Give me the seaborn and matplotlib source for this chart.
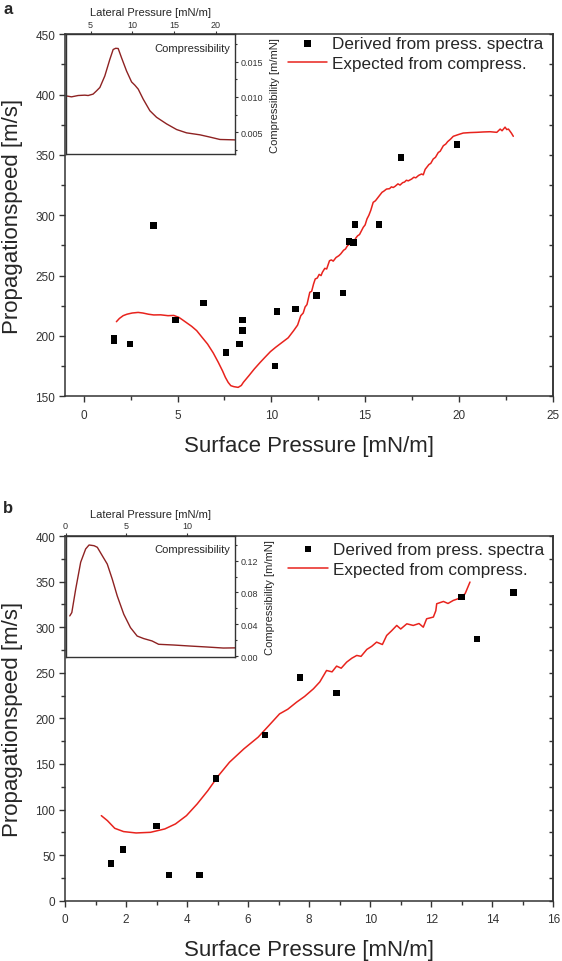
import matplotlib
matplotlib.use("Agg")
import matplotlib.pyplot as plt
import seaborn as sns
from matplotlib.ticker import MultipleLocator, FormatStrFormatter

# ---------------- data: panel a ----------------
a_pts_x = [1.6, 1.6, 2.47, 3.73, 4.9, 6.39, 7.59, 8.3, 8.45, 8.47, 10.2, 10.29,
           11.3, 12.42, 13.83, 14.15, 14.38, 14.47, 15.75, 16.91, 19.9]
a_pts_y = [198.5, 196.0, 193.3, 291.4, 213.2, 227.3, 186.4, 193.3, 213.2, 204.4, 175.1, 220.4,
           222.3, 233.4, 235.6, 278.4, 277.3, 292.5, 292.5, 348.0, 358.8]

a_curve_x = [1.74, 1.9, 2.1, 2.3, 2.58, 2.9, 3.15, 3.45, 3.73, 4.1,
             4.49, 4.8, 5.07, 5.25, 5.45, 5.75, 6.02, 6.3, 6.6, 6.9,
             7.17, 7.4, 7.55, 7.7, 7.84, 8.0, 8.23, 8.4, 8.51, 8.8,
             9.09, 9.4, 9.66, 9.95, 10.23, 10.62, 10.9, 11.19, 11.4, 11.57,
             11.7, 11.8, 11.9, 12.05, 12.15, 12.25, 12.34, 12.45, 12.55, 12.65,
             12.72, 12.85, 12.95, 13.1, 13.2, 13.3, 13.45, 13.6, 13.7, 13.85,
             13.95, 14.06, 14.19, 14.3, 14.4, 14.5, 14.6, 14.7, 14.8, 14.9,
             15.0, 15.1, 15.2, 15.3, 15.43, 15.55, 15.7, 15.8, 15.9, 16.0,
             16.14, 16.3, 16.4, 16.5, 16.6, 16.75, 16.86, 17.0, 17.1, 17.2,
             17.3, 17.48, 17.6, 17.7, 17.85, 18.01, 18.1, 18.2, 18.3, 18.4,
             18.5, 18.63, 18.75, 18.9, 19.0, 19.17, 19.3, 19.4, 19.55, 19.7,
             20.0, 20.23, 20.6, 20.95, 21.3, 21.66, 22.02, 22.2, 22.3, 22.46,
             22.55, 22.64, 22.8, 22.9]
a_curve_y = [211.8, 214.5, 216.8, 218.0, 219.0, 219.5, 219.0, 218.0, 217.4, 217.5,
             216.8, 217.0, 215.4, 213.5, 211.3, 208.0, 204.4, 199.0, 193.3, 186.0,
             178.2, 171.0, 165.7, 161.5, 158.8, 158.0, 157.4, 159.0, 161.6, 167.0,
             172.6, 178.0, 182.3, 187.0, 190.6, 195.2, 198.5, 204.4, 209.0, 216.8,
             219.0, 224.0, 226.0, 236.2, 237.0, 243.0, 247.2, 248.0, 251.0, 250.0,
             252.7, 256.0, 255.5, 262.3, 263.0, 262.0, 265.0, 266.5, 268.0, 271.0,
             272.0, 274.8, 276.2, 279.0, 278.0, 281.0, 283.0, 284.0, 287.0, 290.0,
             292.0, 297.0, 300.0, 304.0, 310.7, 312.0, 315.0, 317.0, 319.0, 320.0,
             321.7, 322.0, 323.5, 323.0, 324.0, 326.0, 325.0, 327.0, 327.5, 329.0,
             328.5, 330.0, 331.5, 331.0, 333.0, 334.2, 333.5, 338.0, 340.0, 342.0,
             343.0, 346.6, 348.0, 352.0, 353.0, 357.6, 359.0, 361.0, 363.0, 365.4,
             367.0, 368.1, 368.5, 368.7, 369.0, 369.2, 368.7, 371.4, 370.0, 373.0,
             371.0, 371.4, 368.0, 365.4]

a_inset_x = [2.0, 2.72, 3.51, 4.31, 4.71, 5.3, 5.71, 6.11, 6.7, 7.3,
             7.7, 8.0, 8.3, 8.7, 9.3, 9.9, 10.3, 10.7, 11.29, 12.09,
             12.89, 14.09, 15.29, 16.48, 18.08, 19.27, 20.47, 22.06, 22.27]
a_inset_y = [0.01016, 0.01001, 0.0102, 0.01025, 0.0102, 0.0104, 0.01086, 0.01134, 0.01297, 0.01532,
             0.01673, 0.0169, 0.01687, 0.01556, 0.01368, 0.01213, 0.01166, 0.0111, 0.00969, 0.00804,
             0.00711, 0.00617, 0.00537, 0.0049, 0.00462, 0.0043, 0.00396, 0.00391, 0.0039]

# ---------------- data: panel b ----------------
b_pts_x = [1.5, 1.9, 3.0, 3.4, 4.4, 4.95, 6.55, 7.7, 8.9, 13.0, 13.5, 14.7]
b_pts_y = [41.0, 56.0, 82.0, 28.0, 28.0, 134.0, 182.0, 245.0, 228.0, 333.0, 287.0, 338.0]

b_curve_x = [1.19, 1.39, 1.63, 1.92, 2.33, 2.8, 3.27, 3.62, 3.98, 4.33,
             4.68, 5.03, 5.39, 5.86, 6.33, 6.68, 7.03, 7.3, 7.59, 7.85,
             8.14, 8.35, 8.57, 8.75, 8.9, 9.05, 9.23, 9.4, 9.56, 9.7,
             9.89, 10.05, 10.21, 10.4, 10.54, 10.7, 10.87, 11.0, 11.2, 11.41,
             11.6, 11.74, 11.85, 12.07, 12.15, 12.18, 12.4, 12.55, 12.72, 12.94,
             13.11, 13.27]
b_curve_y = [93.3, 87.8, 79.4, 75.8, 74.3, 75.0, 78.7, 84.2, 93.3, 106.1,
             120.7, 137.2, 151.9, 166.5, 179.4, 192.1, 204.9, 210.0, 217.8, 224.0,
             232.4, 240.0, 252.5, 251.0, 257.3, 255.0, 261.7, 266.0, 269.0, 268.0,
             275.6, 279.0, 283.6, 281.0, 290.9, 296.0, 301.9, 298.0, 303.7, 301.9,
             304.0, 300.0, 309.2, 311.1, 318.0, 325.7, 328.2, 326.0, 329.3, 331.9,
             336.7, 349.5]

b_inset_x = [0.35, 0.52, 0.84, 1.25, 1.66, 1.94, 2.35, 2.62, 3.03, 3.44,
             3.85, 4.26, 4.8, 5.35, 5.9, 6.44, 7.13, 7.67, 8.9, 10.27,
             11.64, 13.0, 13.96]
b_inset_y = [0.0505, 0.0547, 0.0842, 0.118, 0.1347, 0.1397, 0.1388, 0.1368, 0.1262, 0.1157,
             0.0968, 0.0757, 0.0526, 0.0358, 0.0252, 0.022, 0.019, 0.0148, 0.0139, 0.0126,
             0.0114, 0.0101, 0.0103]

# ---------------- text ----------------
x_label = "Surface Pressure [mN/m]"
y_label = "Propagationspeed [m/s]"
inset_xlabel = "Lateral Pressure [mN/m]"
inset_ylabel = "Compressibility [m/mN]"
inset_title = "Compressibility"
lbl_pts = "Derived from press. spectra"
lbl_curve = "Expected from compress."

sns.set_style("ticks")
plt.rcParams['font.family'] = ['Liberation Sans', 'DejaVu Sans']
plt.rcParams['axes.edgecolor'] = '#333333'
plt.rcParams['xtick.color'] = '#333333'
plt.rcParams['ytick.color'] = '#333333'

W, H = 562, 962
fig = plt.figure(figsize=(W / 100, H / 100), dpi=100)


def rect(l, t, r, b):
    return [l / W, 1 - b / H, (r - l) / W, (b - t) / H]


RED = '#e8231d'
DARKRED = '#8e2222'


def main_panel(box, px, py, cx, cy, xlim, ylim, xmaj, xmin, ymaj, ymin, leg_y):
    ax = fig.add_axes(box)
    sns.lineplot(x=cx, y=cy, ax=ax, sort=False, estimator=None, color=RED,
                 lw=1.1, label=lbl_curve, zorder=2)
    sns.scatterplot(x=px, y=py, ax=ax, marker='s', color='black', s=22,
                    edgecolor='none', label=lbl_pts, zorder=3)
    ax.set_xlim(*xlim)
    ax.set_ylim(*ylim)
    ax.xaxis.set_major_locator(MultipleLocator(xmaj))
    ax.xaxis.set_minor_locator(MultipleLocator(xmin))
    ax.yaxis.set_major_locator(MultipleLocator(ymaj))
    ax.yaxis.set_minor_locator(MultipleLocator(ymin))
    ax.tick_params(which='both', direction='out', top=False, right=False,
                   labelsize=8.5, width=1)
    ax.tick_params(axis='x', pad=5)
    ax.tick_params(axis='y', pad=3)
    ax.tick_params(which='major', length=4)
    ax.tick_params(which='minor', length=3)
    for s in ax.spines.values():
        s.set_linewidth(1.1)
    sec = ax.secondary_yaxis('right')
    sec.yaxis.set_major_locator(MultipleLocator(ymin))
    sec.tick_params(direction='in', length=3, labelright=False, width=1)
    sec.spines['right'].set_linewidth(1.1)
    ax.set_xlabel(x_label, fontsize=16, labelpad=10)
    ax.set_ylabel(y_label, fontsize=16, labelpad=9)
    h, l = ax.get_legend_handles_labels()
    order = [l.index(lbl_pts), l.index(lbl_curve)]
    ax.legend([h[i] for i in order], [l[i] for i in order], loc='upper right',
              bbox_to_anchor=(0.988, leg_y), frameon=False, fontsize=12.3,
              handlelength=2.3, handletextpad=0.3, labelspacing=0.3,
              borderaxespad=0.0, borderpad=0.2, markerscale=1.0)
    return ax


def inset_panel(box, x, y, xlim, ylim, xmaj, ymaj, ymin, yfmt):
    ai = fig.add_axes(box)
    ai.set_zorder(5)
    ai.set_facecolor('white')
    sns.lineplot(x=x, y=y, ax=ai, sort=False, estimator=None, color=DARKRED, lw=1.0)
    ai.set_xlim(*xlim)
    ai.set_ylim(*ylim)
    ai.xaxis.set_major_locator(MultipleLocator(xmaj))
    ai.yaxis.set_major_locator(MultipleLocator(ymaj))
    ai.yaxis.set_minor_locator(MultipleLocator(ymin))
    ai.yaxis.set_major_formatter(FormatStrFormatter(yfmt))
    ai.tick_params(which='both', direction='out', top=True, labeltop=True,
                   bottom=False, labelbottom=False, left=False, labelleft=False,
                   right=True, labelright=True, labelsize=6.5, pad=1.5, width=0.8)
    ai.tick_params(which='major', length=2.5)
    ai.tick_params(which='minor', length=1.5)
    ai.xaxis.set_label_position('top')
    ai.yaxis.set_label_position('right')
    ai.set_xlabel(inset_xlabel, fontsize=8, labelpad=3)
    ai.set_ylabel(inset_ylabel, fontsize=8, labelpad=5)
    for s in ai.spines.values():
        s.set_linewidth(1.0)
    ai.text(0.97, 0.93, inset_title, transform=ai.transAxes, ha='right',
            va='top', fontsize=8)
    return ai


# panel a
main_panel(rect(65, 35.2, 552.7, 397.3), a_pts_x, a_pts_y, a_curve_x, a_curve_y,
           (-1, 25), (150, 450), 5, 2.5, 50, 25, 1.004)
inset_panel(rect(65.5, 35.2, 235, 155), a_inset_x, a_inset_y, (2.0, 22.27),
            (0.0019, 0.0189), 5, 0.005, 0.0025, '%.3f')

# panel b
main_panel(rect(65, 537, 553.3, 901.7), b_pts_x, b_pts_y, b_curve_x, b_curve_y,
           (0, 16), (0, 400), 2, 1, 50, 25, 0.994)
inset_panel(rect(65.5, 537, 235, 657.7), b_inset_x, b_inset_y, (0, 13.96),
            (-0.0008, 0.151), 5, 0.04, 0.02, '%.2f')

fig.text(3 / W, 1 - 2 / H, 'a', fontsize=12, fontweight='bold', va='top', ha='left')
fig.text(3 / W, 1 - 501 / H, 'b', fontsize=12, fontweight='bold', va='top', ha='left')

fig.savefig('out.png', dpi=100)
